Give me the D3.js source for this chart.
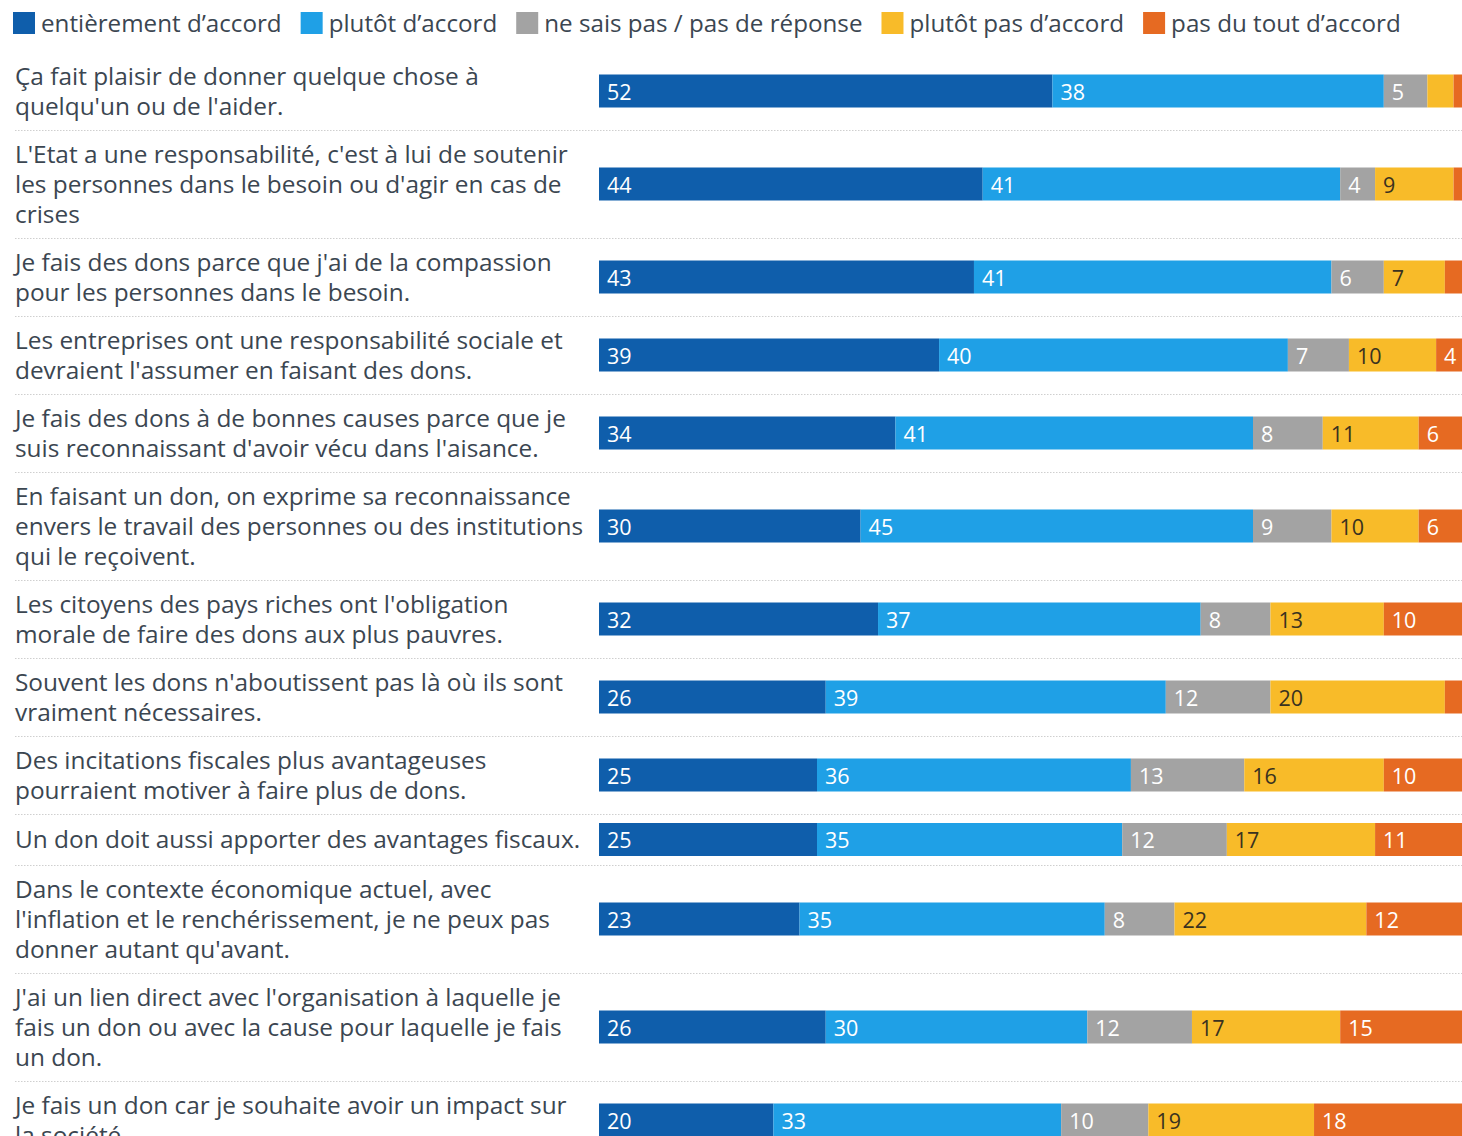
<!DOCTYPE html>
<html>
<head>
<meta charset="utf-8">
<script src="https://cdn.jsdelivr.net/npm/d3@7"></script>
<style>
  html, body { margin: 0; padding: 0; background: #fff; }
  svg { display: block; }
</style>
</head>
<body>
<svg id="chart" width="1462" height="1136"></svg>
<script>
const categories = [
  "Ça fait plaisir de donner quelque chose à\nquelqu'un ou de l'aider.",
  "L'Etat a une responsabilité, c'est à lui de soutenir\nles personnes dans le besoin ou d'agir en cas de\ncrises",
  "Je fais des dons parce que j'ai de la compassion\npour les personnes dans le besoin.",
  "Les entreprises ont une responsabilité sociale et\ndevraient l'assumer en faisant des dons.",
  "Je fais des dons à de bonnes causes parce que je\nsuis reconnaissant d'avoir vécu dans l'aisance.",
  "En faisant un don, on exprime sa reconnaissance\nenvers le travail des personnes ou des institutions\nqui le reçoivent.",
  "Les citoyens des pays riches ont l'obligation\nmorale de faire des dons aux plus pauvres.",
  "Souvent les dons n'aboutissent pas là où ils sont\nvraiment nécessaires.",
  "Des incitations fiscales plus avantageuses\npourraient motiver à faire plus de dons.",
  "Un don doit aussi apporter des avantages fiscaux.",
  "Dans le contexte économique actuel, avec\nl'inflation et le renchérissement, je ne peux pas\ndonner autant qu'avant.",
  "J'ai un lien direct avec l'organisation à laquelle je\nfais un don ou avec la cause pour laquelle je fais\nun don.",
  "Je fais un don car je souhaite avoir un impact sur\nla société."
];
const seriesNames = ["entièrement d’accord", "plutôt d’accord", "ne sais pas / pas de réponse", "plutôt pas d’accord", "pas du tout d’accord"];
const entierement = [52, 44, 43, 39, 34, 30, 32, 26, 25, 25, 23, 26, 20];
const plutot      = [38, 41, 41, 40, 41, 45, 37, 39, 36, 35, 35, 30, 33];
const neSaisPas   = [5, 4, 6, 7, 8, 9, 8, 12, 13, 12, 8, 12, 10];
const plutotPas   = [3, 9, 7, 10, 11, 10, 13, 20, 16, 17, 22, 17, 19];
const pasDuTout   = [2, 2, 3, 4, 6, 6, 10, 3, 10, 11, 12, 15, 18];
const seriesColors = ["#0f5eab", "#1fa0e6", "#a3a3a3", "#f8bb29", "#e66a22"];
const seriesTextColors = ["#ffffff", "#ffffff", "#ffffff", "#3a3220", "#ffffff"];

const series = [entierement, plutot, neSaisPas, plutotPas, pasDuTout];
const FONT = "'Open Sans', 'Noto Sans', sans-serif";
const textColor = "#3b4651";

const svg = d3.select("#chart");

const x = d3.scaleLinear().domain([0, 100]).range([599, 1471]);

// table of rows
const rows = categories.map((c, i) => {
  const o = { label: c, lines: c.split("\n") };
  seriesNames.forEach((s, k) => { o[s] = series[k][i]; });
  return o;
});
const stacked = d3.stack().keys(seriesNames)(rows);

// vertical layout
const lineH = 30, barH = 33, pad = 18;
let yCursor = 52;
rows.forEach(r => {
  r.h = Math.max(r.lines.length * lineH, barH) + pad;
  r.top = yCursor;
  r.cy = yCursor + r.h / 2;
  yCursor += r.h;
});

// separators
svg.append("g").selectAll("line").data(rows).join("line")
  .attr("x1", 15).attr("x2", 1462)
  .attr("y1", d => d.top + d.h + 0.5).attr("y2", d => d.top + d.h + 0.5)
  .attr("stroke", "#cfcfcf").attr("stroke-width", 1).attr("stroke-dasharray", "1.5,1.5");

// labels
const lab = svg.append("g").selectAll("text").data(rows).join("text")
  .attr("font-family", FONT).attr("font-size", 24.4).attr("fill", textColor);
lab.each(function(d) {
  const t = d3.select(this);
  const n = d.lines.length;
  d.lines.forEach((ln, j) => {
    t.append("tspan").attr("x", 15)
      .attr("y", d.cy - 1 + (j - (n - 1) / 2) * lineH)
      .attr("dominant-baseline", "central")
      .text(ln);
  });
});

// bars
const gBars = svg.append("g");
stacked.forEach((layer, k) => {
  const g = gBars.append("g");
  g.selectAll("rect").data(layer).join("rect")
    .attr("x", d => x(d[0]))
    .attr("width", d => x(d[1]) - x(d[0]))
    .attr("y", (d, i) => rows[i].cy - barH / 2)
    .attr("height", barH)
    .attr("fill", seriesColors[k]);
  g.selectAll("text").data(layer.filter(d => d[1] - d[0] >= 4)).join("text")
    .attr("x", d => x(d[0]) + 8)
    .attr("y", d => d.data.cy)
    .attr("dominant-baseline", "central")
    .attr("font-family", FONT).attr("font-size", 21.5)
    .attr("fill", seriesTextColors[k])
    .text(d => d[1] - d[0]);
});

// legend
const leg = svg.append("g");
let lx = 13;
seriesNames.forEach((s, k) => {
  leg.append("rect").attr("x", lx).attr("y", 12).attr("width", 22).attr("height", 22).attr("fill", seriesColors[k]);
  const t = leg.append("text").attr("x", lx + 28).attr("y", 22)
    .attr("dominant-baseline", "central")
    .attr("font-family", FONT).attr("font-size", 24.2).attr("fill", textColor)
    .text(s);
  lx = lx + 28 + t.node().getComputedTextLength() + 19;
});
</script>
</body>
</html>
